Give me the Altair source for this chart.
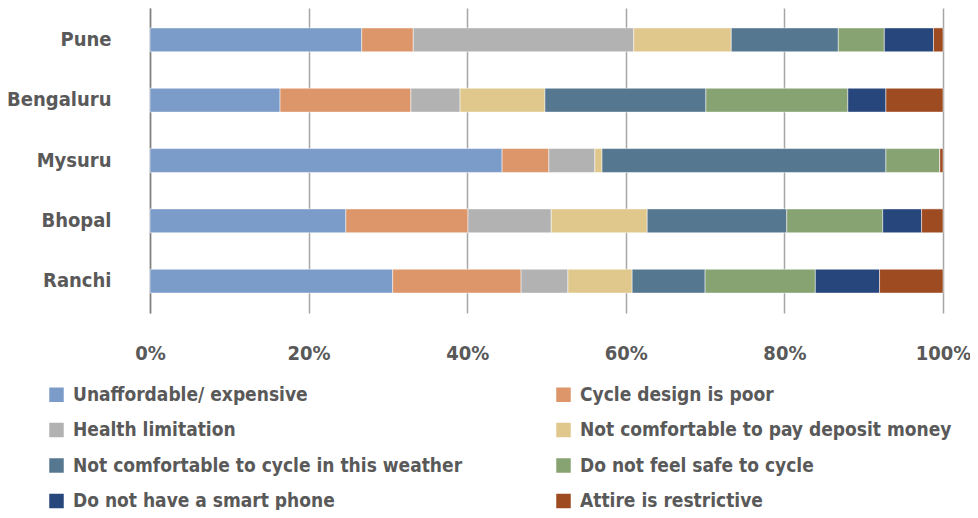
import altair as alt
import pandas as pd

cities = ["Pune", "Bengaluru", "Mysuru", "Bhopal", "Ranchi"]
categories = [
    "Unaffordable/ expensive",
    "Cycle design is poor",
    "Health limitation",
    "Not comfortable to pay deposit money",
    "\u00a0Not comfortable to cycle in this weather",
    "Do not feel safe to cycle",
    "Do not have a smart phone",
    "Attire is restrictive",
]
colors = ["#7B9BC8", "#DC966A", "#B2B2B2", "#E0C78C", "#557790", "#88A372", "#27467C", "#9E4B22"]

# percentage shares per city, in category order
pune = [26.7, 6.5, 27.8, 12.3, 13.5, 5.8, 6.2, 1.2]
bengaluru = [16.4, 16.5, 6.2, 10.7, 20.3, 17.9, 4.8, 7.2]
mysuru = [44.4, 5.9, 5.8, 0.9, 35.8, 6.8, 0.0, 0.4]
bhopal = [24.7, 15.4, 10.5, 12.1, 17.6, 12.1, 4.9, 2.7]
ranchi = [30.6, 16.2, 5.9, 8.1, 9.2, 13.9, 8.1, 8.0]

values = {"Pune": pune, "Bengaluru": bengaluru, "Mysuru": mysuru, "Bhopal": bhopal, "Ranchi": ranchi}
rows = []
for c in cities:
    for i, cat in enumerate(categories):
        rows.append({"city": c, "reason": cat, "order": i, "value": values[c][i]})
df = pd.DataFrame(rows)

FONT = "DejaVu Sans Condensed"
TXT = "#595959"

chart = alt.Chart(df).mark_bar(stroke="#ffffff", strokeWidth=0.7, strokeOpacity=0.7).encode(
    y=alt.Y("city:N", sort=cities,
            scale=alt.Scale(paddingInner=0.604, paddingOuter=0.33),
            axis=alt.Axis(title=None, ticks=False, labelPadding=39, labelFontSize=20,
                          labelFont=FONT, labelFontWeight="bold", labelColor=TXT,
                          domainColor="#7f7f7f", domainWidth=1.5, grid=False)),
    x=alt.X("value:Q", stack="normalize",
            scale=alt.Scale(domain=[0, 1], nice=False),
            axis=alt.Axis(title=None, format="%", values=[0, 0.2, 0.4, 0.6, 0.8, 1.0],
                          ticks=False, domain=False, labelPadding=30, labelFontSize=20,
                          labelFont=FONT, labelFontWeight="bold", labelColor=TXT,
                          gridColor="#A6A6A6", gridWidth=1.5, labelFlush=False)),
    color=alt.Color("reason:N", sort=categories,
                    scale=alt.Scale(domain=categories, range=colors),
                    legend=alt.Legend(title=None, orient="none", legendX=-103, legendY=377,
                                      direction="horizontal",
                                      columns=2, columnPadding=91, rowPadding=15.5,
                                      symbolType="square", symbolSize=210, symbolStrokeWidth=0,
                                      labelFont=FONT, labelFontSize=19, labelFontWeight="bold",
                                      labelColor=TXT, labelOffset=7, labelLimit=500)),
    order=alt.Order("order:Q", sort="ascending"),
).properties(
    width=793, height=305,
    autosize=alt.AutoSizeParams(type="none"),
    padding={"left": 142, "top": 0, "right": 27, "bottom": 197},
).configure_view(stroke=None)

chart.save("out.html", embed_options={"renderer": "svg", "actions": False})
